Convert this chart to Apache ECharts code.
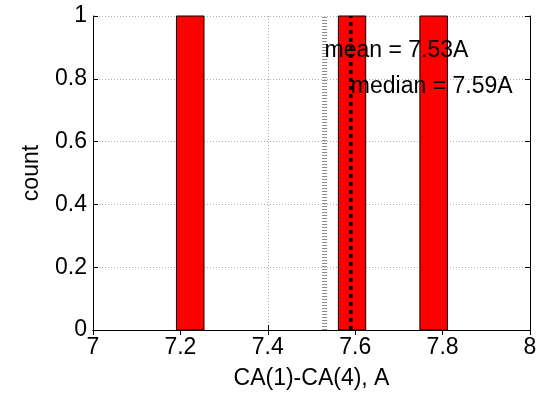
<!DOCTYPE html>
<html><head><meta charset="utf-8">
<script src="https://cdn.jsdelivr.net/npm/echarts@6/dist/echarts.min.js"></script>
<style>html,body{margin:0;padding:0;background:#fff}#c{width:550px;height:396px}</style>
</head><body><div id="c"></div>
<script>
const binStart = [7.191, 7.5615, 7.748];
const binEnd = [7.254, 7.624, 7.811];
const counts = [1, 1, 1];
const meanVal = 7.53;
const medianVal = 7.59;
const meanLabel = 'mean = 7.53A';
const medianLabel = 'median = 7.59A';
const meanLabelY = 0.89;
const medianLabelY = 0.774;
const xTitle = 'CA(1)-CA(4), A';
const yTitle = 'count';

const FONT = 'Liberation Sans, Arial, sans-serif';
const FS = 23;
const chart = echarts.init(document.getElementById('c'));
const barData = binStart.map((s, i) => [s, binEnd[i], counts[i]]);
const grid = {left: 93, right: 20, top: 16, bottom: 66};
chart.setOption({
  animation: false,
  grid: grid,
  xAxis: [{
    type: 'value', min: 7, max: 8, interval: 0.2,
    name: xTitle, nameLocation: 'middle', nameGap: 37,
    nameTextStyle: {color: '#000', fontSize: FS, fontFamily: FONT},
    axisLine: {lineStyle: {color: '#000', width: 1}},
    axisTick: {inside: true, length: 5, lineStyle: {color: '#000'}},
    axisLabel: {color: '#000', fontSize: FS, fontFamily: FONT, margin: 6,
      formatter: v => String(Math.round(v * 10) / 10)},
    splitLine: {show: true, lineStyle: {color: '#b0b0b0', type: [1, 2], width: 1}}
  }, {
    type: 'value', min: 7, max: 8, interval: 0.2, position: 'top',
    axisLine: {lineStyle: {color: '#000', width: 1}},
    axisTick: {inside: true, length: 5, lineStyle: {color: '#000'}},
    axisLabel: {show: false}, splitLine: {show: false}
  }],
  yAxis: [{
    type: 'value', min: 0, max: 1, interval: 0.2,
    name: yTitle, nameLocation: 'middle', nameGap: 50,
    nameTextStyle: {color: '#000', fontSize: FS, fontFamily: FONT},
    axisLine: {show: true, lineStyle: {color: '#000', width: 1}},
    axisTick: {show: true, inside: true, length: 5, lineStyle: {color: '#000'}},
    axisLabel: {color: '#000', fontSize: FS, fontFamily: FONT, margin: 6,
      formatter: v => String(Math.round(v * 10) / 10)},
    splitLine: {show: true, lineStyle: {color: '#b0b0b0', type: [1, 2], width: 1}}
  }, {
    type: 'value', min: 0, max: 1, interval: 0.2, position: 'right',
    axisLine: {show: true, lineStyle: {color: '#000', width: 1}},
    axisTick: {show: true, inside: true, length: 5, lineStyle: {color: '#000'}},
    axisLabel: {show: false}, splitLine: {show: false}
  }],
  series: [{
    type: 'custom', xAxisIndex: 0, yAxisIndex: 0, z: 2,
    data: barData,
    encode: {x: [0, 1], y: 2},
    renderItem: function (params, api) {
      const p0 = api.coord([api.value(0), api.value(2)]);
      const p1 = api.coord([api.value(1), 0]);
      return {type: 'rect', shape: {x: p0[0], y: p0[1], width: p1[0] - p0[0], height: p1[1] - p0[1]},
        style: {fill: '#ff0000', stroke: '#000', lineWidth: 1}};
    }
  }, {
    type: 'line', z: 3, symbol: 'none', silent: true,
    data: [[meanVal, 0], [meanVal, 1]],
    lineStyle: {color: '#8a8a8a', width: 5, type: [1, 2]}
  }, {
    type: 'line', z: 4, symbol: 'none', silent: true,
    data: [[medianVal, 0], [medianVal, 1]],
    lineStyle: {color: '#000', width: 3.5, type: [4, 4]}
  }, {
    type: 'scatter', z: 5, symbolSize: 0, silent: true,
    itemStyle: {opacity: 1},
    data: [{value: [meanVal, meanLabelY], name: meanLabel}, {value: [medianVal, medianLabelY], name: medianLabel}],
    label: {show: true, position: 'right', distance: 0, formatter: p => p.name,
      color: '#000', opacity: 1, fontSize: FS, fontFamily: FONT}
  }]
});
</script></body></html>
